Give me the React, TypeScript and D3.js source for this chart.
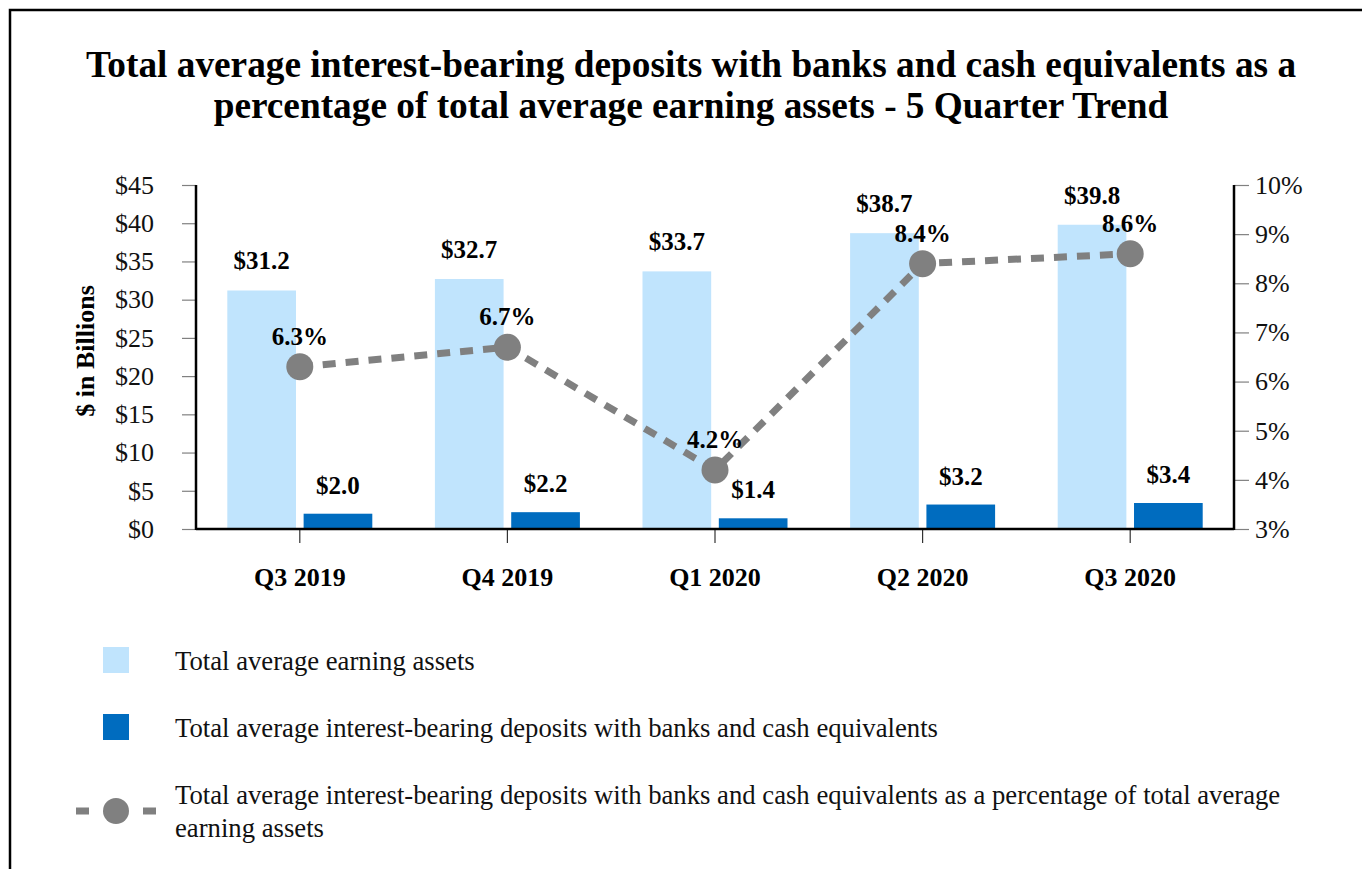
import React, { useEffect, useRef } from 'react'
import * as d3 from 'd3'

const quarters = ['Q3 2019', 'Q4 2019', 'Q1 2020', 'Q2 2020', 'Q3 2020']
const earningAssets = [31.2, 32.7, 33.7, 38.7, 39.8]
const depositsCash = [2.0, 2.2, 1.4, 3.2, 3.4]
const pctOfAssets = [6.3, 6.7, 4.2, 8.4, 8.6]
const leftTicks = [0, 5, 10, 15, 20, 25, 30, 35, 40, 45]
const rightTicks = [3, 4, 5, 6, 7, 8, 9, 10]
const seriesNames = ['assets', 'deposits']
const legendLabels = [
  'Total average earning assets',
  'Total average interest-bearing deposits with banks and cash equivalents',
  'Total average interest-bearing deposits with banks and cash equivalents as a percentage of total average',
  'earning assets',
]

const LIGHT = '#c0e4fd'
const DARK = '#006cbf'
const GREY = '#808080'
const FONT = '"Liberation Serif", "Times New Roman", serif'

export default function App() {
  const svgRef = useRef<SVGSVGElement>(null)

  useEffect(() => {
    const svg = d3.select(svgRef.current)
    svg.selectAll('*').remove()
    const W = 1362
    const H = 869
    const left = 196, right = 1234, top = 185, bottom = 529

    svg.attr('font-family', FONT)

    // frame (open at right / bottom as in the source)
    svg.append('path')
      .attr('d', `M10,${H + 5} L10,10 L${W + 5},10`)
      .attr('fill', 'none').attr('stroke', '#000').attr('stroke-width', 2.5)

    // title
    const title = svg.append('text').attr('text-anchor', 'middle')
      .attr('font-weight', 'bold').attr('font-size', 37.3)
    title.append('tspan').attr('x', 691).attr('y', 77)
      .text('Total average interest-bearing deposits with banks and cash equivalents as a')
    title.append('tspan').attr('x', 691).attr('y', 118)
      .text('percentage of total average earning assets - 5 Quarter Trend')

    const x0 = d3.scaleBand().domain(quarters).range([left, right])
    const x1 = d3.scaleBand().domain(seriesNames).range([-72.5, 72.5]).paddingInner(0.1)
    const y = d3.scaleLinear().domain([0, 45]).range([bottom, top])
    const yR = d3.scaleLinear().domain([3, 10]).range([bottom, top])
    const cx = (q: string) => (x0(q) as number) + x0.bandwidth() / 2

    // left axis
    const gL = svg.append('g').attr('transform', `translate(${left},0)`)
      .call(d3.axisLeft(y).tickValues(leftTicks).tickSize(14).tickPadding(28).tickFormat(d => `$${d}`))
    gL.select('.domain').remove()
    gL.selectAll('.tick line').attr('stroke', GREY).attr('stroke-width', 1.2)
    gL.selectAll('.tick text').attr('font-size', 26).attr('fill', '#111').attr('font-family', FONT)

    // right axis
    const gR = svg.append('g').attr('transform', `translate(${right},0)`)
      .call(d3.axisRight(yR).tickValues(rightTicks).tickSize(15).tickPadding(6).tickFormat(d => `${d}%`))
    gR.select('.domain').remove()
    gR.selectAll('.tick line').attr('stroke', GREY).attr('stroke-width', 1.2)
    gR.selectAll('.tick text').attr('font-size', 26).attr('fill', '#111').attr('font-family', FONT)

    // bottom axis ticks at category centres
    const gB = svg.append('g').attr('transform', `translate(0,${bottom})`)
      .call(d3.axisBottom(x0).tickSize(14).tickPadding(25))
    gB.select('.domain').remove()
    gB.selectAll('.tick line').attr('stroke', '#333').attr('stroke-width', 1.2)
    gB.selectAll('.tick text').attr('font-size', 26).attr('font-weight', 'bold')
      .attr('fill', '#000').attr('font-family', FONT)

    // bars
    const groups = svg.append('g').selectAll('g').data(quarters).join('g')
      .attr('transform', d => `translate(${cx(d)},0)`)
    groups.append('rect')
      .attr('x', x1('assets') as number).attr('width', x1.bandwidth())
      .attr('y', (_, i) => y(earningAssets[i])).attr('height', (_, i) => bottom - y(earningAssets[i]))
      .attr('fill', LIGHT)
    groups.append('rect')
      .attr('x', x1('deposits') as number).attr('width', x1.bandwidth())
      .attr('y', (_, i) => y(depositsCash[i])).attr('height', (_, i) => bottom - y(depositsCash[i]))
      .attr('fill', DARK)

    // axis lines
    svg.append('line').attr('x1', left).attr('x2', left).attr('y1', top).attr('y2', bottom + 1)
      .attr('stroke', '#000').attr('stroke-width', 2.5)
    svg.append('line').attr('x1', right).attr('x2', right).attr('y1', top).attr('y2', bottom + 1)
      .attr('stroke', '#000').attr('stroke-width', 2.5)
    svg.append('line').attr('x1', left).attr('x2', right).attr('y1', bottom).attr('y2', bottom)
      .attr('stroke', '#000').attr('stroke-width', 2.5)

    // bar labels
    groups.append('text').attr('text-anchor', 'middle')
      .attr('x', x1('assets')! + x1.bandwidth() / 2)
      .attr('y', (_, i) => y(earningAssets[i]) - 21)
      .attr('font-size', 25).attr('font-weight', 'bold')
      .text((_, i) => `$${earningAssets[i].toFixed(1)}`)
    groups.append('text').attr('text-anchor', 'middle')
      .attr('x', x1('deposits')! + x1.bandwidth() / 2)
      .attr('y', (_, i) => y(depositsCash[i]) - 20)
      .attr('font-size', 25).attr('font-weight', 'bold')
      .text((_, i) => `$${depositsCash[i].toFixed(1)}`)

    // percentage line
    const line = d3.line<number>().x((_, i) => cx(quarters[i])).y(d => yR(d))
    svg.append('path').datum(pctOfAssets).attr('d', line)
      .attr('fill', 'none').attr('stroke', GREY).attr('stroke-width', 7)
      .attr('stroke-dasharray', '13,10')
    svg.append('g').selectAll('circle').data(pctOfAssets).join('circle')
      .attr('cx', (_, i) => cx(quarters[i])).attr('cy', d => yR(d)).attr('r', 13.5)
      .attr('fill', GREY)
    svg.append('g').selectAll('text').data(pctOfAssets).join('text')
      .attr('text-anchor', 'middle')
      .attr('x', (_, i) => cx(quarters[i])).attr('y', d => yR(d) - 22)
      .attr('font-size', 25).attr('font-weight', 'bold')
      .text(d => `${d.toFixed(1)}%`)

    // y axis title
    svg.append('text').attr('transform', 'translate(94,351) rotate(-90)')
      .attr('text-anchor', 'middle').attr('font-size', 26).attr('font-weight', 'bold')
      .text('$ in Billions')

    // legend
    const lg = svg.append('g')
    lg.append('rect').attr('x', 103).attr('y', 647).attr('width', 26).attr('height', 26).attr('fill', LIGHT)
    lg.append('rect').attr('x', 103).attr('y', 714).attr('width', 26).attr('height', 26).attr('fill', DARK)
    lg.append('line').attr('x1', 76).attr('x2', 156).attr('y1', 811).attr('y2', 811)
      .attr('stroke', GREY).attr('stroke-width', 7).attr('stroke-dasharray', '13,54')
    lg.append('circle').attr('cx', 116).attr('cy', 811).attr('r', 13).attr('fill', GREY)
    const ly = [670, 737, 804, 837]
    lg.selectAll('text').data(legendLabels).join('text')
      .attr('x', 175).attr('y', (_, i) => ly[i]).attr('font-size', 26.7).attr('fill', '#111')
      .text(d => d)
  }, [])

  return (
    <svg ref={svgRef} width={1362} height={869}
      style={{ position: 'absolute', left: 0, top: 0, display: 'block', background: '#fff' }} />
  )
}
